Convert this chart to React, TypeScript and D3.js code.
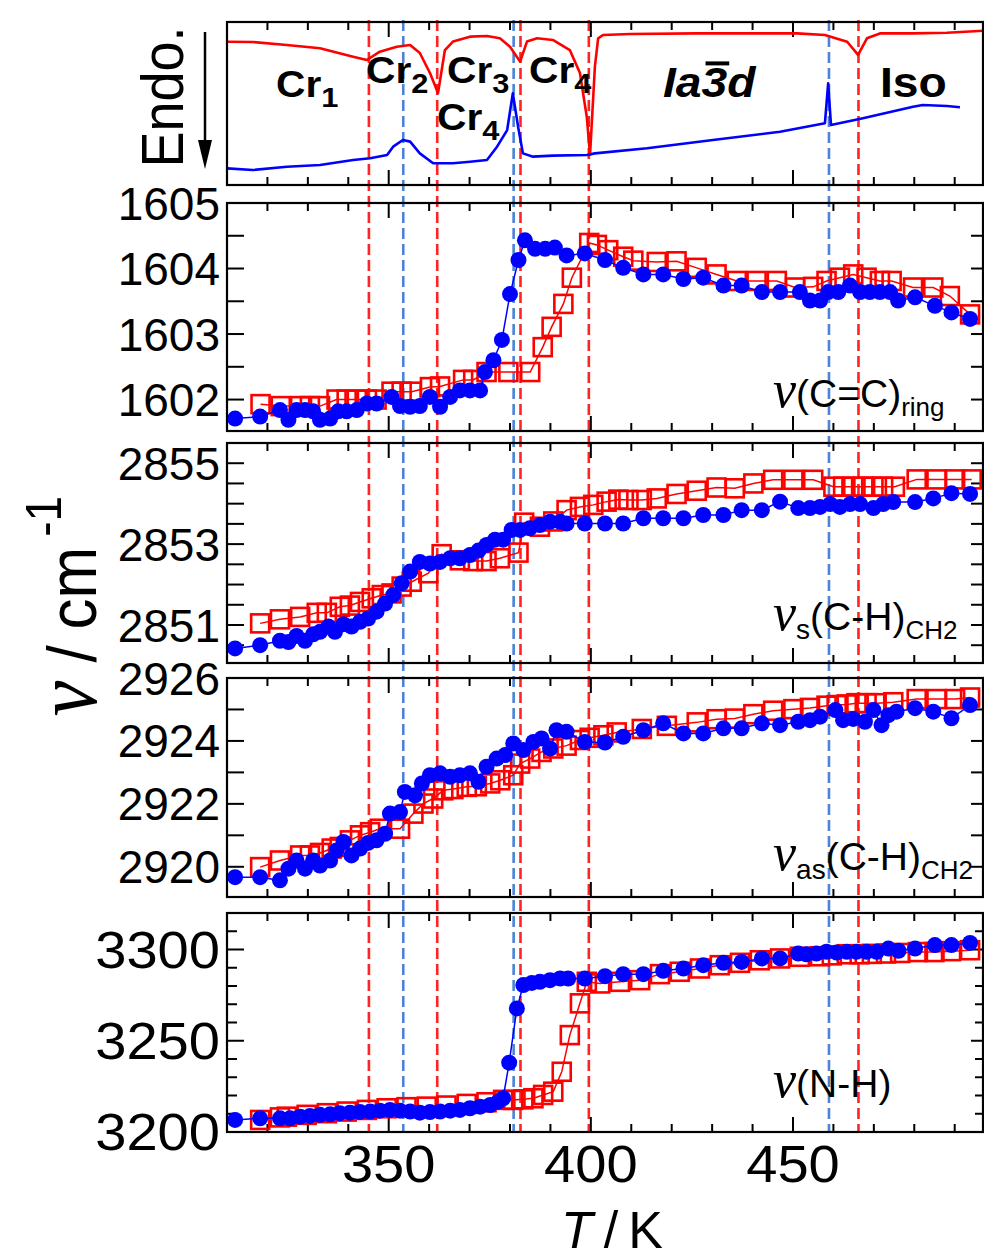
import React from "react";
import * as d3 from "d3";

type Pt = [number, number];

// ---------- DSC traces (T / K, arbitrary heat-flow units) ----------
const dscHeating: Pt[] = [
  [310.0, 87.9], [316.4, 87.7], [324.8, 85.9], [333.0, 83.9], [341.2, 78.7], [344.6, 76.7],
  [347.8, 81.8], [352.0, 84.8], [355.3, 85.9], [357.7, 81.0], [360.2, 68.7], [362.2, 56.4],
  [363.9, 82.8], [365.9, 88.0], [370.1, 91.0], [374.3, 91.4], [377.5, 90.0], [380.0, 84.8],
  [382.5, 75.7], [384.2, 88.0], [386.7, 90.0], [390.6, 89.0], [394.8, 82.8], [397.3, 68.7],
  [399.0, 41.7], [399.8, 18.4], [401.0, 72.6], [401.8, 90.0], [403.0, 92.0], [409.7, 92.6],
  [426.2, 93.0], [451.0, 93.0], [457.9, 92.0], [463.4, 87.9], [466.1, 79.8], [468.3, 90.0],
  [471.5, 93.0], [479.7, 93.0], [488.1, 93.4], [497.0, 94.6],
];
const dscCooling: Pt[] = [
  [310.0, 10.2], [316.4, 9.2], [324.8, 11.2], [333.0, 12.3], [341.2, 15.3], [345.4, 16.4],
  [349.6, 18.4], [351.1, 23.5], [353.5, 27.6], [355.3, 26.6], [357.7, 19.4], [361.0, 13.3],
  [365.9, 13.3], [370.1, 14.3], [374.3, 15.3], [376.8, 23.5], [379.3, 33.7], [380.7, 56.3],
  [382.0, 35.8], [383.2, 19.4], [385.7, 17.4], [390.6, 18.0], [399.0, 18.4], [401.0, 19.4],
  [413.9, 22.5], [430.2, 27.6], [446.8, 32.7], [457.9, 37.9], [458.7, 62.4], [459.4, 36.8],
  [467.3, 40.9], [479.7, 48.0], [482.1, 49.1], [488.1, 48.5], [491.3, 47.7],
];

// ---------- ν(C=C)ring ----------
const ccHeating: Pt[] = [
  [318.3, 1601.93], [323.3, 1601.9], [328.1, 1601.9], [330.5, 1601.9], [333.0, 1601.9], [337.1, 1602.0],
  [339.6, 1602.0], [342.1, 1602.0], [344.6, 1602.0], [347.0, 1602.0], [350.7, 1602.12], [353.2, 1602.12],
  [355.7, 1602.12], [360.2, 1602.19], [362.7, 1602.2], [368.4, 1602.3], [370.9, 1602.3], [374.2, 1602.42],
  [379.6, 1602.42], [385.0, 1602.42], [388.1, 1602.8], [390.3, 1603.11], [393.2, 1603.46], [395.3, 1603.86],
  [399.6, 1604.39], [401.5, 1604.36], [404.3, 1604.28], [408.0, 1604.18], [410.5, 1604.12], [416.3, 1604.1],
  [421.2, 1604.11], [426.2, 1604.01], [431.1, 1603.91], [436.1, 1603.81], [441.0, 1603.81], [446.0, 1603.81],
  [450.5, 1603.71], [455.0, 1603.72], [458.3, 1603.81], [461.6, 1603.86], [464.9, 1603.91], [468.2, 1603.86],
  [471.5, 1603.81], [474.4, 1603.81], [479.7, 1603.71], [484.7, 1603.71], [488.8, 1603.58], [493.8, 1603.3],
];
const ccCooling: Pt[] = [
  [312.0, 1601.71], [318.2, 1601.74], [323.1, 1601.84], [325.2, 1601.69], [327.2, 1601.84], [329.3, 1601.84],
  [331.3, 1601.82], [333.0, 1601.69], [335.5, 1601.71], [337.5, 1601.82], [339.6, 1601.82], [342.1, 1601.84],
  [344.6, 1601.94], [347.0, 1601.94], [350.7, 1602.04], [352.8, 1601.9], [355.3, 1601.89], [357.7, 1601.9],
  [360.2, 1602.04], [362.7, 1601.89], [365.2, 1602.04], [367.6, 1602.14], [370.1, 1602.14], [372.6, 1602.14],
  [373.8, 1602.42], [375.9, 1602.6], [378.0, 1602.91], [380.0, 1603.61], [382.1, 1604.13], [383.7, 1604.43],
  [386.2, 1604.3], [388.7, 1604.3], [391.1, 1604.32], [394.0, 1604.2], [398.5, 1604.23], [403.5, 1604.13],
  [408.0, 1604.01], [413.0, 1603.91], [417.9, 1603.91], [422.9, 1603.84], [427.8, 1603.86], [432.8, 1603.74],
  [437.3, 1603.74], [442.3, 1603.64], [446.8, 1603.64], [451.7, 1603.64], [454.2, 1603.51], [456.7, 1603.51],
  [458.7, 1603.64], [461.2, 1603.64], [464.1, 1603.74], [466.6, 1603.64], [469.0, 1603.64], [471.5, 1603.64],
  [474.0, 1603.64], [476.0, 1603.51], [480.2, 1603.56], [485.1, 1603.43], [489.2, 1603.33], [493.8, 1603.23],
];

// ---------- νs(C-H)CH2 ----------
const chsHeating: Pt[] = [
  [318.2, 2851.04], [323.1, 2851.14], [328.1, 2851.2], [332.2, 2851.3], [334.7, 2851.3], [337.9, 2851.45],
  [340.4, 2851.48], [342.9, 2851.57], [345.8, 2851.66], [348.3, 2851.74], [350.7, 2851.78], [353.2, 2851.95],
  [355.7, 2852.07], [359.8, 2852.28], [363.1, 2852.75], [367.6, 2852.6], [370.9, 2852.58], [374.2, 2852.58],
  [377.5, 2852.65], [382.1, 2852.79], [383.5, 2853.53], [387.4, 2853.43], [390.7, 2853.56], [394.0, 2853.84],
  [397.3, 2853.92], [400.6, 2853.97], [403.9, 2854.05], [406.8, 2854.1], [409.3, 2854.09], [412.6, 2854.09],
  [416.3, 2854.13], [421.2, 2854.24], [426.2, 2854.32], [431.1, 2854.4], [435.6, 2854.38], [440.2, 2854.5],
  [445.1, 2854.59], [450.1, 2854.59], [455.0, 2854.59], [460.0, 2854.42], [462.4, 2854.42], [464.9, 2854.42],
  [467.4, 2854.42], [469.9, 2854.42], [472.3, 2854.42], [475.2, 2854.42], [480.6, 2854.6], [485.5, 2854.6],
  [490.1, 2854.6], [494.2, 2854.6],
];
const chsCooling: Pt[] = [
  [312.0, 2850.42], [318.2, 2850.5], [323.1, 2850.61], [325.2, 2850.58], [327.2, 2850.73], [329.3, 2850.61],
  [331.3, 2850.77], [333.0, 2850.83], [335.1, 2850.96], [336.7, 2850.83], [338.8, 2851.02], [340.8, 2850.96],
  [342.9, 2851.08], [344.9, 2851.16], [347.0, 2851.33], [349.1, 2851.53], [351.1, 2851.74], [353.2, 2852.03],
  [355.3, 2852.32], [357.7, 2852.56], [360.2, 2852.52], [362.7, 2852.56], [365.2, 2852.65], [367.6, 2852.65],
  [370.1, 2852.73], [372.2, 2852.84], [374.2, 2852.98], [376.3, 2853.11], [378.3, 2853.11], [380.4, 2853.35],
  [382.5, 2853.35], [384.9, 2853.39], [387.4, 2853.47], [389.9, 2853.55], [392.4, 2853.55], [394.0, 2853.51],
  [398.5, 2853.51], [403.5, 2853.51], [408.0, 2853.51], [413.0, 2853.64], [417.9, 2853.64], [422.9, 2853.64],
  [427.8, 2853.72], [432.8, 2853.72], [437.3, 2853.84], [442.3, 2853.84], [446.8, 2854.05], [451.3, 2853.89],
  [454.2, 2853.89], [456.7, 2853.92], [459.2, 2853.99], [461.6, 2853.92], [464.1, 2853.99], [466.6, 2853.99],
  [469.9, 2853.89], [472.3, 2853.99], [474.8, 2854.04], [480.2, 2854.04], [484.7, 2854.13], [489.2, 2854.26],
  [493.8, 2854.24],
];

// ---------- νas(C-H)CH2 ----------
const chasHeating: Pt[] = [
  [318.2, 2919.99], [323.1, 2920.2], [328.1, 2920.36], [330.5, 2920.36], [333.0, 2920.44], [335.9, 2920.58],
  [337.9, 2920.63], [340.4, 2920.84], [342.9, 2921.0], [345.4, 2921.1], [347.8, 2921.21], [352.8, 2921.21],
  [356.1, 2921.69], [358.6, 2922.01], [361.0, 2922.17], [363.5, 2922.43], [366.0, 2922.47], [369.3, 2922.54],
  [371.8, 2922.56], [375.1, 2922.65], [377.6, 2922.75], [380.8, 2922.91], [382.5, 2923.28], [385.0, 2923.44],
  [387.8, 2923.65], [390.7, 2923.76], [394.0, 2923.85], [397.3, 2924.03], [399.7, 2924.1], [403.1, 2924.18],
  [406.4, 2924.27], [412.6, 2924.38], [418.8, 2924.48], [426.2, 2924.59], [431.1, 2924.69], [435.6, 2924.71],
  [440.2, 2924.85], [445.1, 2924.96], [450.1, 2925.01], [454.2, 2925.05], [458.3, 2925.12], [460.8, 2925.14],
  [463.3, 2925.16], [465.7, 2925.2], [468.2, 2925.2], [470.7, 2925.2], [474.8, 2925.23], [480.6, 2925.33],
  [485.5, 2925.33], [490.1, 2925.33], [493.8, 2925.38],
];
const chasCooling: Pt[] = [
  [312.0, 2919.67], [318.2, 2919.67], [323.1, 2919.57], [325.2, 2919.94], [327.2, 2920.2], [329.3, 2919.94],
  [331.3, 2920.2], [333.0, 2920.04], [335.5, 2920.2], [337.1, 2920.52], [338.8, 2920.79], [340.8, 2920.36],
  [342.9, 2920.58], [344.9, 2920.76], [347.0, 2920.84], [349.1, 2921.05], [350.3, 2921.69], [352.8, 2921.74],
  [354.0, 2922.38], [356.5, 2922.27], [358.2, 2922.65], [360.2, 2922.91], [362.7, 2922.97], [365.2, 2922.86],
  [367.6, 2922.91], [370.1, 2922.97], [372.2, 2922.7], [374.2, 2923.18], [376.7, 2923.44], [378.8, 2923.55],
  [380.8, 2923.92], [383.3, 2923.71], [385.8, 2923.97], [387.8, 2924.08], [389.9, 2923.76], [391.5, 2924.34],
  [394.0, 2924.29], [398.5, 2923.97], [403.5, 2923.95], [408.0, 2924.13], [413.0, 2924.34], [417.9, 2924.56],
  [422.9, 2924.24], [427.8, 2924.24], [432.8, 2924.4], [437.3, 2924.4], [442.3, 2924.56], [446.8, 2924.5],
  [451.3, 2924.61], [454.2, 2924.66], [456.7, 2924.77], [460.5, 2924.98], [462.4, 2924.66], [464.9, 2924.7],
  [467.8, 2924.61], [469.9, 2924.98], [471.9, 2924.5], [473.6, 2924.82], [475.6, 2924.93], [480.2, 2925.04],
  [484.7, 2924.93], [489.2, 2924.72], [493.8, 2925.14],
];

// ---------- ν(N-H) ----------
const nhHeating: Pt[] = [
  [318.2, 3206.6], [323.1, 3208.0], [324.8, 3208.4], [329.7, 3209.4], [334.7, 3210.3], [339.6, 3211.2],
  [344.6, 3212.1], [349.5, 3213.0], [354.4, 3213.6], [359.4, 3213.9], [364.3, 3214.5], [369.3, 3215.4],
  [374.2, 3216.3], [378.3, 3217.6], [380.8, 3217.6], [383.3, 3217.9], [385.8, 3218.5], [388.2, 3220.3],
  [390.7, 3222.1], [392.8, 3233.0], [394.8, 3253.1], [397.3, 3270.5], [399.0, 3282.3], [402.3, 3281.4],
  [407.2, 3282.3], [412.2, 3283.2], [417.1, 3286.5], [422.0, 3287.8], [427.0, 3289.6], [431.9, 3291.4],
  [436.9, 3292.7], [441.8, 3294.1], [446.8, 3295.1], [451.7, 3296.0], [456.7, 3296.3], [459.6, 3296.8],
  [463.3, 3297.4], [466.5, 3297.4], [469.5, 3297.6], [473.0, 3297.8], [476.5, 3298.1], [480.9, 3298.6],
  [485.0, 3298.6], [489.1, 3299.1], [493.8, 3299.6],
];
const nhCooling: Pt[] = [
  [312.0, 3206.6], [318.2, 3207.5], [323.1, 3207.5], [325.6, 3207.5], [328.1, 3208.4], [330.5, 3208.8],
  [333.0, 3209.4], [335.5, 3209.7], [337.9, 3210.3], [340.4, 3210.6], [342.9, 3211.0], [345.4, 3211.2],
  [347.8, 3211.7], [350.3, 3212.1], [352.8, 3211.7], [355.3, 3211.2], [357.7, 3210.6], [360.2, 3210.9],
  [362.7, 3211.2], [365.2, 3211.7], [367.6, 3212.1], [370.1, 3213.0], [372.6, 3213.9], [375.1, 3214.8],
  [377.1, 3216.6], [378.3, 3218.5], [379.8, 3238.0], [381.7, 3267.7], [383.3, 3280.5], [385.4, 3281.7],
  [387.4, 3282.3], [389.9, 3283.2], [392.4, 3284.1], [394.4, 3284.1], [398.5, 3284.1], [403.5, 3285.4],
  [408.0, 3286.5], [413.0, 3286.5], [417.9, 3288.3], [422.9, 3289.6], [427.8, 3291.4], [432.8, 3292.7],
  [437.3, 3293.2], [442.3, 3295.1], [446.8, 3295.1], [451.3, 3297.8], [453.3, 3297.4], [455.8, 3297.8],
  [458.3, 3298.7], [460.8, 3298.3], [463.3, 3298.7], [465.7, 3298.7], [468.2, 3298.7], [470.7, 3298.7],
  [473.6, 3300.5], [476.1, 3299.3], [480.2, 3300.5], [485.1, 3302.4], [489.2, 3302.4], [493.8, 3303.6],
];

// ---------- transitions and ticks ----------
const heatingTransitions = [345.1, 362.0, 382.6, 399.5, 466.2];
const coolingTransitions = [353.6, 380.9, 458.9];
const xTickLabels = [350, 400, 450];
const ccTicks = [1602, 1603, 1604, 1605];
const chsTicks = [2851, 2853, 2855];
const chasTicks = [2920, 2922, 2924, 2926];
const nhTicks = [3200, 3250, 3300];

// ---------- layout ----------
const SANS = "'Liberation Sans', Arial, Helvetica, sans-serif";
const SERIF = "'Liberation Serif', 'Times New Roman', serif";
const SX = 1.1;
const RED = "#ff0000";
const BLUE = "#0000ff";
const RED_DASH = "#ff2424";
const BLUE_DASH = "#4d82d6";
const X0 = 227;
const X1 = 983;
const x = d3.scaleLinear().domain([310, 497]).range([X0, X1]);
const xMinor = d3.range(320, 497, 10);

const DSC_TOP = 22;
const DSC_BOTTOM = 185;

interface PanelSpec {
  top: number;
  bottom: number;
  domain: [number, number];
  minor: number;
  major: number;
  labels: number[];
  labelFont: number;
  labelSX: number;
  heating: Pt[];
  cooling: Pt[];
  label: React.ReactNode;
  labelY: number;
}

function XTicks({ top, bottom }: { top: number; bottom: number }) {
  return (
    <g stroke="#000" strokeWidth={2}>
      {xMinor.map((t) => {
        const len = t % 50 === 0 ? 15 : 8;
        const px = x(t);
        return (
          <g key={t}>
            <line x1={px} x2={px} y1={top} y2={top + len} />
            <line x1={px} x2={px} y1={bottom} y2={bottom - len} />
          </g>
        );
      })}
    </g>
  );
}

function Panel({ spec }: { spec: PanelSpec }) {
  const y = d3.scaleLinear().domain(spec.domain).range([spec.bottom, spec.top]);
  const line = d3.line<Pt>().x((d) => x(d[0])).y((d) => y(d[1]));
  const n0 = Math.ceil(spec.domain[0] / spec.minor - 1e-6);
  const n1 = Math.floor(spec.domain[1] / spec.minor + 1e-6);
  const ticks = d3.range(n0, n1 + 1).map((k) => k * spec.minor);
  const s = 18;
  return (
    <g>
      <g stroke="#000" strokeWidth={2}>
        {ticks.map((v) => {
          const r = v / spec.major;
          const isMajor = Math.abs(r - Math.round(r)) < 1e-6;
          const len = isMajor ? 17 : 10;
          const py = y(v);
          return (
            <g key={v}>
              <line x1={X0} x2={X0 + len} y1={py} y2={py} />
              <line x1={X1} x2={X1 - (isMajor ? 12 : 8)} y1={py} y2={py} />
            </g>
          );
        })}
      </g>
      <XTicks top={spec.top} bottom={spec.bottom} />
      {spec.labels.map((v) => (
        <text
          key={v}
          transform={`translate(220,${y(v) + spec.labelFont * 0.36}) scale(${spec.labelSX},1)`}
          textAnchor="end"
          fontFamily={SANS}
          fontSize={spec.labelFont}
          fill="#000"
        >
          {v}
        </text>
      ))}
      <path d={line(spec.heating) || ""} fill="none" stroke={RED} strokeWidth={1.5} />
      {spec.heating.map((d, i) => (
        <rect
          key={i}
          x={x(d[0]) - s / 2}
          y={y(d[1]) - s / 2}
          width={s}
          height={s}
          fill="none"
          stroke={RED}
          strokeWidth={2.6}
        />
      ))}
      <path d={line(spec.cooling) || ""} fill="none" stroke={BLUE} strokeWidth={1.5} />
      {spec.cooling.map((d, i) => (
        <circle key={i} cx={x(d[0])} cy={y(d[1])} r={8} fill={BLUE} />
      ))}
      <g transform={`translate(773,${spec.labelY})`}>{spec.label}</g>
      <rect
        x={X0}
        y={spec.top}
        width={X1 - X0}
        height={spec.bottom - spec.top}
        fill="none"
        stroke="#000"
        strokeWidth={2.2}
      />
    </g>
  );
}

const Nu = () => (
  <tspan fontFamily={SERIF} fontStyle="italic" fontSize={52}>
    ν
  </tspan>
);

const panels: PanelSpec[] = [
  {
    top: 203, bottom: 431, domain: [1601.52, 1605], minor: 0.5, major: 0.5, labels: ccTicks,
    labelFont: 46, labelSX: 1.0,
    heating: ccHeating, cooling: ccCooling, labelY: 407,
    label: (
      <text fontFamily={SANS} fontSize={39} fill="#000">
        <Nu />
        <tspan>(C=C)</tspan>
        <tspan fontSize={26} dy={9}>ring</tspan>
      </text>
    ),
  },
  {
    top: 443, bottom: 663, domain: [2850.06, 2855.5], minor: 0.5, major: 0.5, labels: chsTicks,
    labelFont: 46, labelSX: 1.0,
    heating: chsHeating, cooling: chsCooling, labelY: 630,
    label: (
      <text fontFamily={SANS} fontSize={39} fill="#000">
        <Nu />
        <tspan fontSize={28} dy={9}>s</tspan>
        <tspan dy={-9}>(C-H)</tspan>
        <tspan fontSize={26} dy={9}>CH2</tspan>
      </text>
    ),
  },
  {
    top: 678, bottom: 897, domain: [2919.04, 2926], minor: 1, major: 1, labels: chasTicks,
    labelFont: 46, labelSX: 1.0,
    heating: chasHeating, cooling: chasCooling, labelY: 870,
    label: (
      <text fontFamily={SANS} fontSize={39} fill="#000">
        <Nu />
        <tspan fontSize={28} dy={9}>as</tspan>
        <tspan dy={-9}>(C-H)</tspan>
        <tspan fontSize={26} dy={9}>CH2</tspan>
      </text>
    ),
  },
  {
    top: 913, bottom: 1132, domain: [3200, 3320], minor: 10, major: 50, labels: nhTicks,
    labelFont: 51, labelSX: SX,
    heating: nhHeating, cooling: nhCooling, labelY: 1097,
    label: (
      <text fontFamily={SANS} fontSize={39} fill="#000">
        <Nu />
        <tspan>(N-H)</tspan>
      </text>
    ),
  },
];

function DscPanel() {
  const y = d3.scaleLinear().domain([0, 100]).range([DSC_BOTTOM, DSC_TOP]);
  const line = d3.line<Pt>().x((d) => x(d[0])).y((d) => y(d[1]));
  const cr = (label: string, sub: string, px: number, py: number) => (
    <text
      transform={`translate(${px},${py}) scale(${SX},1)`}
      fontFamily={SANS}
      fontWeight="bold"
      fontSize={37}
      fill="#000"
    >
      <tspan>{label}</tspan>
      <tspan fontSize={28} dy={10}>{sub}</tspan>
    </text>
  );
  const f = 42;
  const x3 = 663 + 0.834 * f * SX;
  const w3 = 0.556 * f * SX;
  return (
    <g>
      <XTicks top={DSC_TOP} bottom={DSC_BOTTOM} />
      <path d={line(dscHeating) || ""} fill="none" stroke={RED} strokeWidth={2.6} strokeLinejoin="round" />
      <path d={line(dscCooling) || ""} fill="none" stroke={BLUE} strokeWidth={2.6} strokeLinejoin="round" />
      {cr("Cr", "1", 276, 97)}
      {cr("Cr", "2", 366, 83)}
      {cr("Cr", "3", 447, 83)}
      {cr("Cr", "4", 437, 130)}
      {cr("Cr", "4", 529, 83)}
      <text
        transform={`translate(663,97) scale(${SX},1)`}
        fontFamily={SANS}
        fontWeight="bold"
        fontStyle="italic"
        fontSize={f}
        fill="#000"
      >
        Ia3d
      </text>
      <line x1={x3 + 4} x2={x3 + w3 + 2} y1={97 - 0.8 * f} y2={97 - 0.8 * f} stroke="#000" strokeWidth={4} />
      <text
        transform={`translate(880,97) scale(${SX},1)`}
        fontFamily={SANS}
        fontWeight="bold"
        fontSize={f}
        fill="#000"
      >
        Iso
      </text>
      <rect
        x={X0}
        y={DSC_TOP}
        width={X1 - X0}
        height={DSC_BOTTOM - DSC_TOP}
        fill="none"
        stroke="#000"
        strokeWidth={2.2}
      />
      {/* Endo. label + arrow */}
      <text
        transform={`translate(183,97) scale(${SX},1) rotate(-90)`}
        textAnchor="middle"
        fontFamily={SANS}
        fontSize={54}
        fill="#000"
      >
        Endo.
      </text>
      <line x1={205} x2={205} y1={32} y2={145} stroke="#000" strokeWidth={2.5} />
      <path d="M198,140 L212,140 L205,169 Z" fill="#000" />
    </g>
  );
}

export default function App() {
  return (
    <svg
      width={984}
      height={1260}
      viewBox="0 0 984 1260"
      style={{ position: "absolute", left: 0, top: 0, display: "block", background: "#fff" }}
    >
      <rect x={0} y={0} width={984} height={1260} fill="#fff" />
      {/* transition lines */}
      <g strokeWidth={2.6} strokeDasharray="11 5">
        {heatingTransitions.map((t) => (
          <line key={`h${t}`} x1={x(t)} x2={x(t)} y1={20} y2={1133} stroke={RED_DASH} />
        ))}
        {coolingTransitions.map((t) => (
          <line key={`c${t}`} x1={x(t)} x2={x(t)} y1={20} y2={1133} stroke={BLUE_DASH} />
        ))}
      </g>
      <DscPanel />
      {panels.map((p, i) => (
        <Panel key={i} spec={p} />
      ))}
      {xTickLabels.map((t) => (
        <text
          key={t}
          transform={`translate(${x(t)},1182) scale(${SX},1)`}
          textAnchor="middle"
          fontFamily={SANS}
          fontSize={51}
          fill="#000"
        >
          {t}
        </text>
      ))}
      {/* x-axis title */}
      <text
        transform="translate(612,1248)"
        textAnchor="middle"
        fontFamily={SANS}
        fontSize={52}
        fill="#000"
      >
        <tspan fontStyle="italic">T</tspan>
        <tspan dx={11}>/</tspan>
        <tspan dx={10}>K</tspan>
      </text>
      {/* y-axis title */}
      <text
        transform={`translate(96,606) scale(${SX},1) rotate(-90)`}
        textAnchor="middle"
        fontFamily={SANS}
        fontSize={62}
        fill="#000"
      >
        <tspan fontFamily={SERIF} fontStyle="italic" fontSize={80}>ν</tspan>
        <tspan dx={18}>/</tspan>
        <tspan dx={16}>cm</tspan>
        <tspan fontSize={46} dy={-32} dx={10}>-1</tspan>
      </text>
    </svg>
  );
}
